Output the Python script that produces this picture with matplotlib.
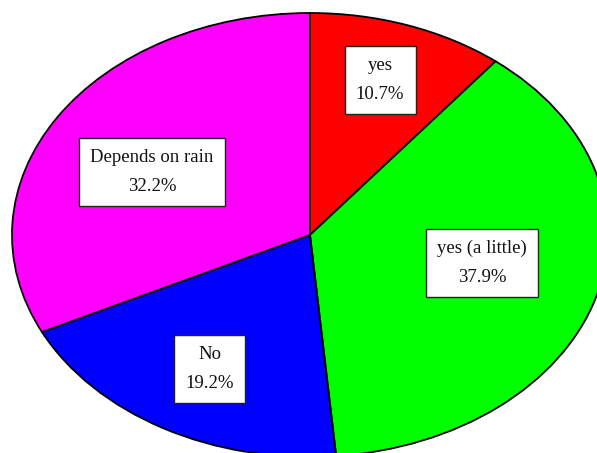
import matplotlib
matplotlib.use("Agg")
import matplotlib.pyplot as plt

labels = ["yes", "yes (a little)", "No", "Depends on rain"]
shares = [10.7, 37.9, 19.2, 32.2]
colors = ["#ff0000", "#00ff00", "#0000ff", "#ff00ff"]

# where each label box sits (unit-circle coords, axes are stretched into an ellipse)
label_pos = [(0.235, 0.698), (0.577, -0.126), (-0.336, -0.604), (-0.530, 0.284)]

fig = plt.figure(figsize=(5.97, 4.53), dpi=100)
ax = fig.add_axes([0, 0, 1, 1])

ax.pie(shares, colors=colors, startangle=90, counterclock=False,
       wedgeprops=dict(edgecolor="black", linewidth=1.3))
ax.set_aspect("auto")
ax.set_xlim(-310 / 298, 287 / 298)
ax.set_ylim(-218 / 222, 235 / 222)
ax.axis("off")

for name, val, (x, y) in zip(labels, shares, label_pos):
    ax.text(x, y, f"{name}\n{val:.1f}%", ha="center", va="center",
            multialignment="center", family="Liberation Serif", fontsize=13.5,
            linespacing=1.9, color="#111111",
            bbox=dict(boxstyle="square,pad=0.6", facecolor="white",
                      edgecolor="#222222", linewidth=1.0))

fig.savefig("out.png", dpi=100)
